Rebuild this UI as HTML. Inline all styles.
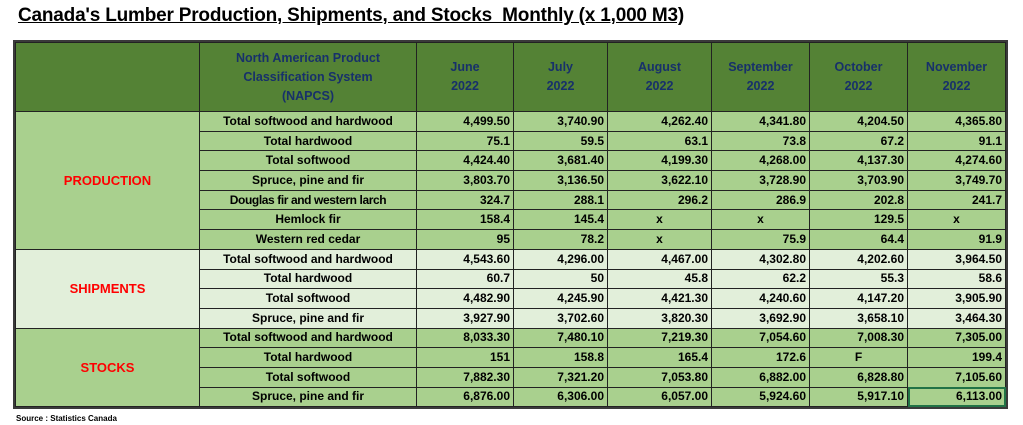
<!DOCTYPE html>
<html><head><meta charset="utf-8"><style>
body{margin:0;width:1023px;height:425px;background:#fff;font-family:"Liberation Sans",sans-serif;position:relative;overflow:hidden}
.title{position:absolute;left:18px;top:5px;font-size:19px;font-weight:bold;text-decoration:underline;color:#000;letter-spacing:-0.2px}
.wrap{position:absolute;left:13px;top:40px;border:2px solid #3a3a3a;background:#548235;padding:0}
table{border-collapse:collapse;table-layout:fixed}
td{border:1.5px solid #222;font-size:12px;font-weight:bold;padding:0 3px;white-space:nowrap;overflow:hidden}
.h td{height:68px;color:#17306a;text-align:center;line-height:19px;background:#548235;font-size:12.5px}
.r td{height:18.7px;line-height:17px}
.n{text-align:right}
.c{text-align:center}
.p td{background:#a9d08e}
.s td{background:#e2efda}
.lab{color:#ff0000;text-align:center;font-size:13px}
.src{position:absolute;left:16px;top:414px;font-size:8px;font-weight:bold}
</style></head><body>
<div class="title">Canada's Lumber Production, Shipments, and Stocks&nbsp; Monthly (x 1,000 M3)</div>
<div class="wrap"><table>
<colgroup><col style="width:184px"><col style="width:217px"><col style="width:97px"><col style="width:94px"><col style="width:104px"><col style="width:98px"><col style="width:98px"><col style="width:98px"></colgroup>
<tr class="h"><td></td><td>North American Product<br>Classification System<br>(NAPCS)</td><td>June<br>2022</td><td>July<br>2022</td><td>August<br>2022</td><td>September<br>2022</td><td>October<br>2022</td><td>November<br>2022</td></tr>
<tr class="r p"><td rowspan="7" class="lab">PRODUCTION</td><td class="c">Total softwood and hardwood</td><td class="n">4,499.50</td><td class="n">3,740.90</td><td class="n">4,262.40</td><td class="n">4,341.80</td><td class="n">4,204.50</td><td class="n">4,365.80</td></tr>
<tr class="r p"><td class="c">Total hardwood</td><td class="n">75.1</td><td class="n">59.5</td><td class="n">63.1</td><td class="n">73.8</td><td class="n">67.2</td><td class="n">91.1</td></tr>
<tr class="r p"><td class="c">Total softwood</td><td class="n">4,424.40</td><td class="n">3,681.40</td><td class="n">4,199.30</td><td class="n">4,268.00</td><td class="n">4,137.30</td><td class="n">4,274.60</td></tr>
<tr class="r p"><td class="c">Spruce, pine and fir</td><td class="n">3,803.70</td><td class="n">3,136.50</td><td class="n">3,622.10</td><td class="n">3,728.90</td><td class="n">3,703.90</td><td class="n">3,749.70</td></tr>
<tr class="r p"><td class="c" style="letter-spacing:-0.4px">Douglas fir and western larch</td><td class="n">324.7</td><td class="n">288.1</td><td class="n">296.2</td><td class="n">286.9</td><td class="n">202.8</td><td class="n">241.7</td></tr>
<tr class="r p"><td class="c">Hemlock fir</td><td class="n">158.4</td><td class="n">145.4</td><td class="c">x</td><td class="c">x</td><td class="n">129.5</td><td class="c">x</td></tr>
<tr class="r p"><td class="c">Western red cedar</td><td class="n">95</td><td class="n">78.2</td><td class="c">x</td><td class="n">75.9</td><td class="n">64.4</td><td class="n">91.9</td></tr>
<tr class="r s"><td rowspan="4" class="lab">SHIPMENTS</td><td class="c">Total softwood and hardwood</td><td class="n">4,543.60</td><td class="n">4,296.00</td><td class="n">4,467.00</td><td class="n">4,302.80</td><td class="n">4,202.60</td><td class="n">3,964.50</td></tr>
<tr class="r s"><td class="c">Total hardwood</td><td class="n">60.7</td><td class="n">50</td><td class="n">45.8</td><td class="n">62.2</td><td class="n">55.3</td><td class="n">58.6</td></tr>
<tr class="r s"><td class="c">Total softwood</td><td class="n">4,482.90</td><td class="n">4,245.90</td><td class="n">4,421.30</td><td class="n">4,240.60</td><td class="n">4,147.20</td><td class="n">3,905.90</td></tr>
<tr class="r s"><td class="c">Spruce, pine and fir</td><td class="n">3,927.90</td><td class="n">3,702.60</td><td class="n">3,820.30</td><td class="n">3,692.90</td><td class="n">3,658.10</td><td class="n">3,464.30</td></tr>
<tr class="r p"><td rowspan="4" class="lab">STOCKS</td><td class="c">Total softwood and hardwood</td><td class="n">8,033.30</td><td class="n">7,480.10</td><td class="n">7,219.30</td><td class="n">7,054.60</td><td class="n">7,008.30</td><td class="n">7,305.00</td></tr>
<tr class="r p"><td class="c">Total hardwood</td><td class="n">151</td><td class="n">158.8</td><td class="n">165.4</td><td class="n">172.6</td><td class="c">F</td><td class="n">199.4</td></tr>
<tr class="r p"><td class="c">Total softwood</td><td class="n">7,882.30</td><td class="n">7,321.20</td><td class="n">7,053.80</td><td class="n">6,882.00</td><td class="n">6,828.80</td><td class="n">7,105.60</td></tr>
<tr class="r p"><td class="c">Spruce, pine and fir</td><td class="n">6,876.00</td><td class="n">6,306.00</td><td class="n">6,057.00</td><td class="n">5,924.60</td><td class="n">5,917.10</td><td class="n" style="outline:2px solid #217346;outline-offset:-2px">6,113.00</td></tr>
</table></div>
<div class="src">Source : Statistics Canada</div>
</body></html>
